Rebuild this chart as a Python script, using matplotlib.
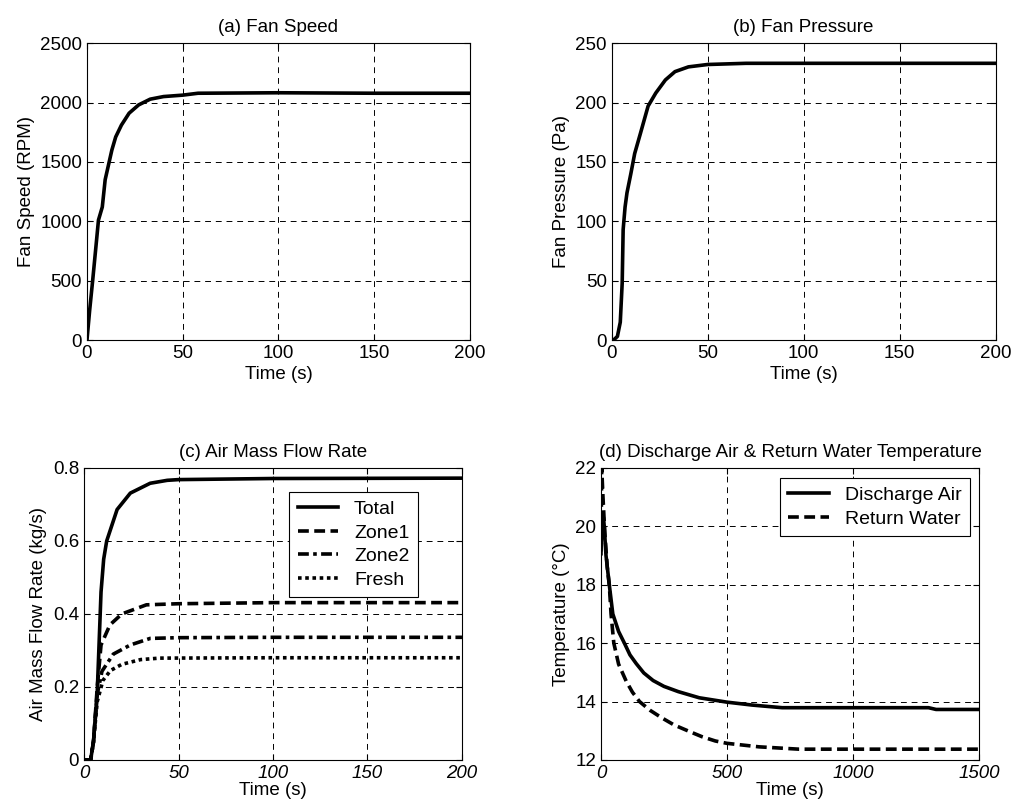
import matplotlib
matplotlib.use("Agg")
import matplotlib.pyplot as plt

plt.rcParams['font.family'] = ['Liberation Sans', 'DejaVu Sans']
plt.rcParams['font.size'] = 13.5

# (a) fan speed
t_speed = [0, 1.4, 3, 5, 6, 8, 9.5, 13, 15, 18, 22, 27, 33, 40, 50, 58, 100, 150, 200]
fan_speed = [0, 250, 505, 840, 1010, 1120, 1350, 1600, 1710, 1810, 1910, 1980, 2028, 2050,
             2062, 2078, 2082, 2078, 2078]

# (b) fan pressure
t_press = [0, 1, 3, 4.5, 5.5, 6, 7, 8, 10, 12, 15, 19, 23, 28, 33, 40, 50, 70, 100, 200]
fan_press = [0, 0, 3, 15, 48, 93, 112, 124, 140, 157, 174, 197, 208, 219, 226, 230, 232,
             233, 233, 233]

# (c) air mass flow rate
t_total = [0, 3.5, 5, 7, 9, 10.4, 12, 17.5, 24.5, 35, 44, 50, 100, 200]
m_total = [0, 0, 0.05, 0.186, 0.46, 0.55, 0.6, 0.686, 0.731, 0.758, 0.766, 0.768, 0.771, 0.772]
t_zone1 = [0, 3.5, 5, 7, 9, 13.7, 20, 33, 50, 100, 200]
m_zone1 = [0, 0, 0.05, 0.2, 0.315, 0.37, 0.40, 0.425, 0.428, 0.431, 0.431]
t_zone2 = [0, 3.5, 5, 7, 9.5, 15.5, 24.5, 35, 50, 100, 200]
m_zone2 = [0, 0, 0.05, 0.18, 0.243, 0.29, 0.315, 0.333, 0.335, 0.336, 0.336]
t_fresh = [0, 3.5, 5, 7, 10, 14, 20, 30, 40, 100, 200]
m_fresh = [0, 0, 0.05, 0.16, 0.218, 0.245, 0.262, 0.275, 0.279, 0.28, 0.28]

# (d) temperatures
t_air = [0, 5, 10, 13, 20, 33, 47, 70, 93, 115, 140, 170, 207, 250, 307, 390, 500, 600, 719,
         1000, 1300, 1330, 1500]
temp_air = [19.2, 20.3, 20.3, 20.0, 19.0, 18.0, 17.0, 16.4, 16.0, 15.6, 15.3, 14.98, 14.72,
            14.52, 14.34, 14.13, 13.98, 13.88, 13.79, 13.79, 13.79, 13.73, 13.73]
t_water = [0, 3, 8, 15, 25, 33, 40, 51, 70, 100, 125, 153, 195, 240, 290, 347, 400, 454, 500,
           627, 785, 1500]
temp_water = [19.0, 22.0, 21.0, 19.8, 18.6, 18.0, 17.0, 16.0, 15.28, 14.7, 14.32, 14.0, 13.7,
              13.45, 13.2, 12.99, 12.8, 12.65, 12.57, 12.45, 12.37, 12.37]

LW = 2.6
FS = 13.5


def style_axes(ax, italic_x=False):
    ax.grid(True, color='black', linestyle=(0, (6, 5)), linewidth=0.7)
    ax.tick_params(direction='in', top=True, right=True, length=4, labelsize=FS)
    for sp in ax.spines.values():
        sp.set_linewidth(0.8)
    if italic_x:
        for lab in ax.get_xticklabels():
            lab.set_fontstyle('italic')


def add_legend(ax, anchor):
    leg = ax.legend(loc='upper left', bbox_to_anchor=anchor, fontsize=14,
                    handlelength=2.1, fancybox=False, edgecolor='black', framealpha=1,
                    borderpad=0.45, labelspacing=0.3, handletextpad=0.8, borderaxespad=0)
    leg.get_frame().set_linewidth(0.8)


fig = plt.figure(figsize=(10.16, 8.09), dpi=100)

ax1 = fig.add_axes([0.0856, 0.5797, 0.377, 0.367])
ax1.plot(t_speed, fan_speed, 'k-', linewidth=LW)
ax1.set_xlim(0, 200)
ax1.set_ylim(0, 2500)
ax1.set_xticks([0, 50, 100, 150, 200])
ax1.set_yticks([0, 500, 1000, 1500, 2000, 2500])
ax1.set_title('(a) Fan Speed', fontsize=FS, pad=8)
ax1.set_xlabel('Time (s)', fontsize=FS, labelpad=3)
ax1.set_ylabel('Fan Speed (RPM)', fontsize=FS)
style_axes(ax1)

ax2 = fig.add_axes([0.602, 0.5797, 0.378, 0.367])
ax2.plot(t_press, fan_press, 'k-', linewidth=LW)
ax2.set_xlim(0, 200)
ax2.set_ylim(0, 250)
ax2.set_xticks([0, 50, 100, 150, 200])
ax2.set_yticks([0, 50, 100, 150, 200, 250])
ax2.set_title('(b) Fan Pressure', fontsize=FS, pad=8)
ax2.set_xlabel('Time (s)', fontsize=FS, labelpad=3)
ax2.set_ylabel('Fan Pressure (Pa)', fontsize=FS)
style_axes(ax2)

ax3 = fig.add_axes([0.0827, 0.0606, 0.372, 0.361])
ax3.plot(t_total, m_total, 'k-', linewidth=LW, label='Total')
ax3.plot(t_zone1, m_zone1, color='k', linestyle=(0, (3, 1.5)), linewidth=LW, label='Zone1')
ax3.plot(t_zone2, m_zone2, color='k', linestyle=(0, (3, 1.2, 1, 1.2)), linewidth=LW, label='Zone2')
ax3.plot(t_fresh, m_fresh, color='k', linestyle=(0, (1, 1)), linewidth=LW, label='Fresh')
ax3.set_xlim(0, 200)
ax3.set_ylim(0, 0.8)
ax3.set_xticks([0, 50, 100, 150, 200])
ax3.set_yticks([0, 0.2, 0.4, 0.6, 0.8])
ax3.set_yticklabels(['0', '0.2', '0.4', '0.6', '0.8'])
ax3.set_title('(c) Air Mass Flow Rate', fontsize=FS, pad=8)
ax3.set_xlabel('Time (s)', fontsize=FS, labelpad=0)
ax3.set_ylabel('Air Mass Flow Rate (kg/s)', fontsize=FS)
style_axes(ax3, italic_x=True)
add_legend(ax3, (0.542, 0.918))

ax4 = fig.add_axes([0.5915, 0.0606, 0.372, 0.361])
ax4.plot(t_air, temp_air, 'k-', linewidth=LW, label='Discharge Air')
ax4.plot(t_water, temp_water, color='k', linestyle=(0, (3, 1.5)), linewidth=LW,
         label='Return Water')
ax4.set_xlim(0, 1500)
ax4.set_ylim(12, 22)
ax4.set_xticks([0, 500, 1000, 1500])
ax4.set_yticks([12, 14, 16, 18, 20, 22])
ax4.set_title('(d) Discharge Air & Return Water Temperature', fontsize=FS, pad=8)
ax4.set_xlabel('Time (s)', fontsize=FS, labelpad=0)
ax4.set_ylabel('Temperature (°C)', fontsize=FS)
style_axes(ax4, italic_x=True)
add_legend(ax4, (0.473, 0.966))

fig.savefig('out.png', dpi=100)
